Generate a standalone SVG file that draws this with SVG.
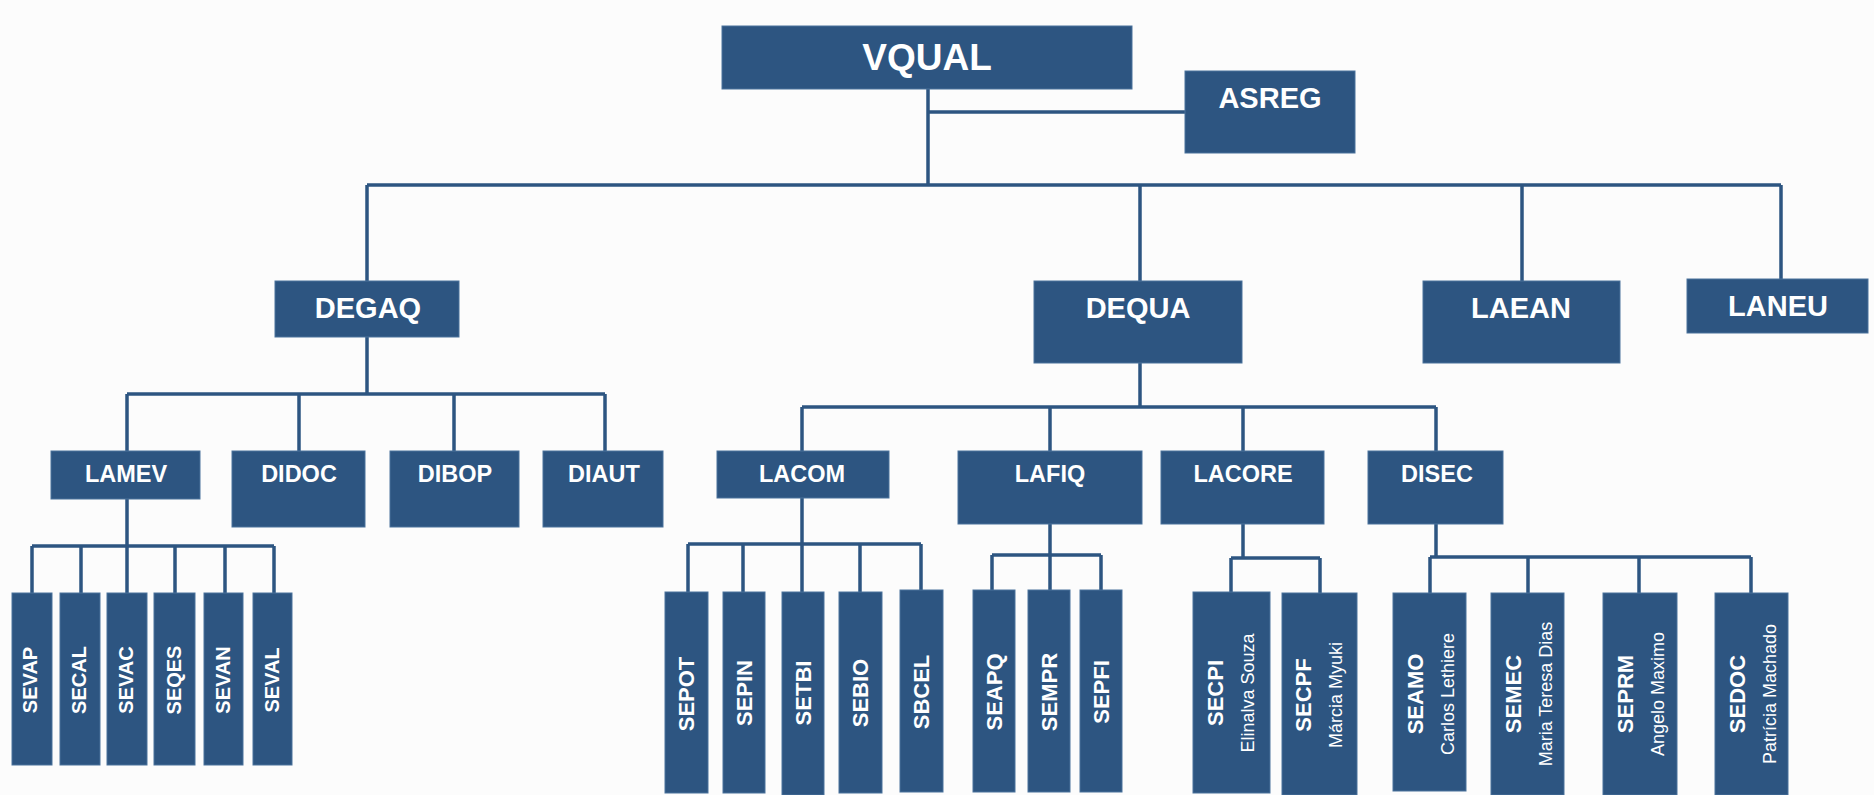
<svg xmlns="http://www.w3.org/2000/svg" width="1874" height="795" viewBox="0 0 1874 795">
<style>
.b{fill:#2D5581;stroke:#4A729B;stroke-width:1}
.t{font-family:"Liberation Sans",Arial,sans-serif;fill:#FFFFFF;text-anchor:middle}
.l2{font-size:29px;font-weight:bold}
.l3{font-size:23.5px;font-weight:bold}
.v{font-size:22px;font-weight:bold}
.vs{font-size:20px;font-weight:bold}
.s{font-size:18px}
.c{fill:none;stroke:#2D5581;stroke-width:3.5}
</style>
<rect x="0" y="0" width="1874" height="795" fill="#FCFCFC"/>
<g id="connectors" class="c">
<path d="M928,89 V185 M928,112 H1185 M367,185 H1781 M367,185 V281 M1140,185 V281 M1522,185 V281 M1781,185 V279"/>
<path d="M367,337 V394 M127,394 H605 M127,394 V451 M299,394 V451 M454,394 V451 M605,394 V451"/>
<path d="M127,499 V546 M32,546 H274 M32,546 V593 M81,546 V593 M127,546 V593 M175,546 V593 M225,546 V593 M274,546 V593"/>
<path d="M1140,363 V407 M802,407 H1436 M802,407 V451 M1050,407 V451 M1243,407 V451 M1436,407 V451"/>
<path d="M802,498 V544 M688,544 H921 M688,544 V592 M743,544 V592 M802,544 V592 M860,544 V592 M921,544 V590"/>
<path d="M1050,524 V555 M992,555 H1101 M992,555 V590 M1050,555 V590 M1101,555 V590"/>
<path d="M1243,524 V558 M1231,558 H1320 M1231,558 V592 M1320,558 V593"/>
<path d="M1436,524 V557 M1430,557 H1751 M1430,557 V593 M1528,557 V593 M1639,557 V593 M1751,557 V593"/>
</g>
<g id="VQUAL"><rect class="b" x="722" y="26" width="410" height="63"/><text class="t" x="927" y="70" font-size="37" font-weight="bold">VQUAL</text></g>
<g id="ASREG"><rect class="b" x="1185" y="71" width="170" height="82"/><text class="t l2" x="1270" y="108">ASREG</text></g>
<g id="DEGAQ"><rect class="b" x="275" y="281" width="184" height="56"/><text class="t l2" x="368" y="318">DEGAQ</text></g>
<g id="DEQUA"><rect class="b" x="1034" y="281" width="208" height="82"/><text class="t l2" x="1138" y="318">DEQUA</text></g>
<g id="LAEAN"><rect class="b" x="1423" y="281" width="197" height="82"/><text class="t l2" x="1521" y="318">LAEAN</text></g>
<g id="LANEU"><rect class="b" x="1687" y="279" width="181" height="54"/><text class="t l2" x="1778" y="316">LANEU</text></g>
<g id="LAMEV"><rect class="b" x="51" y="451" width="149" height="48"/><text class="t l3" x="126" y="482">LAMEV</text></g>
<g id="DIDOC"><rect class="b" x="232" y="451" width="133" height="76"/><text class="t l3" x="299" y="482">DIDOC</text></g>
<g id="DIBOP"><rect class="b" x="390" y="451" width="129" height="76"/><text class="t l3" x="455" y="482">DIBOP</text></g>
<g id="DIAUT"><rect class="b" x="543" y="451" width="120" height="76"/><text class="t l3" x="604" y="482">DIAUT</text></g>
<g id="LACOM"><rect class="b" x="717" y="451" width="172" height="47"/><text class="t l3" x="802" y="482">LACOM</text></g>
<g id="LAFIQ"><rect class="b" x="958" y="451" width="184" height="73"/><text class="t l3" x="1050" y="482">LAFIQ</text></g>
<g id="LACORE"><rect class="b" x="1161" y="451" width="163" height="73"/><text class="t l3" x="1243" y="482">LACORE</text></g>
<g id="DISEC"><rect class="b" x="1368" y="451" width="135" height="73"/><text class="t l3" x="1437" y="482">DISEC</text></g>
<g id="SEVAP"><rect class="b" x="12" y="593" width="40" height="172"/><text class="t vs" transform="translate(37 680) rotate(-90)">SEVAP</text></g>
<g id="SECAL"><rect class="b" x="60" y="593" width="40" height="172"/><text class="t vs" transform="translate(86 680) rotate(-90)">SECAL</text></g>
<g id="SEVAC"><rect class="b" x="107" y="593" width="40" height="172"/><text class="t vs" transform="translate(133 680) rotate(-90)">SEVAC</text></g>
<g id="SEQES"><rect class="b" x="154" y="593" width="41" height="172"/><text class="t vs" transform="translate(181 680) rotate(-90)">SEQES</text></g>
<g id="SEVAN"><rect class="b" x="204" y="593" width="39" height="172"/><text class="t vs" transform="translate(230 680) rotate(-90)">SEVAN</text></g>
<g id="SEVAL"><rect class="b" x="253" y="593" width="39" height="172"/><text class="t vs" transform="translate(279 680) rotate(-90)">SEVAL</text></g>
<g id="SEPOT"><rect class="b" x="665" y="592" width="43" height="201"/><text class="t v" transform="translate(694 694) rotate(-90)">SEPOT</text></g>
<g id="SEPIN"><rect class="b" x="723" y="592" width="42" height="201"/><text class="t v" transform="translate(752 693) rotate(-90)">SEPIN</text></g>
<g id="SETBI"><rect class="b" x="782" y="592" width="42" height="203"/><text class="t v" transform="translate(811 693) rotate(-90)">SETBI</text></g>
<g id="SEBIO"><rect class="b" x="839" y="592" width="43" height="201"/><text class="t v" transform="translate(868 693) rotate(-90)">SEBIO</text></g>
<g id="SBCEL"><rect class="b" x="900" y="590" width="43" height="202"/><text class="t v" transform="translate(929 692) rotate(-90)">SBCEL</text></g>
<g id="SEAPQ"><rect class="b" x="973" y="590" width="42" height="202"/><text class="t v" transform="translate(1002 692) rotate(-90)">SEAPQ</text></g>
<g id="SEMPR"><rect class="b" x="1028" y="590" width="42" height="202"/><text class="t v" transform="translate(1057 692) rotate(-90)">SEMPR</text></g>
<g id="SEPFI"><rect class="b" x="1080" y="590" width="42" height="202"/><text class="t v" transform="translate(1109 692) rotate(-90)">SEPFI</text></g>
<g id="SECPI"><rect class="b" x="1193" y="592" width="77" height="201"/><text class="t v" transform="translate(1223 693) rotate(-90)">SECPI</text><text class="t s" transform="translate(1254 693) rotate(-90)">Elinalva Souza</text></g>
<g id="SECPF"><rect class="b" x="1282" y="593" width="75" height="202"/><text class="t v" transform="translate(1311 695) rotate(-90)">SECPF</text><text class="t s" transform="translate(1342 695) rotate(-90)">Márcia Myuki</text></g>
<g id="SEAMO"><rect class="b" x="1393" y="593" width="73" height="198"/><text class="t v" transform="translate(1423 694) rotate(-90)">SEAMO</text><text class="t s" transform="translate(1454 694) rotate(-90)">Carlos Lethiere</text></g>
<g id="SEMEC"><rect class="b" x="1491" y="593" width="73" height="202"/><text class="t v" transform="translate(1521 694) rotate(-90)">SEMEC</text><text class="t s" transform="translate(1552 694) rotate(-90)">Maria Teresa Dias</text></g>
<g id="SEPRM"><rect class="b" x="1603" y="593" width="74" height="202"/><text class="t v" transform="translate(1633 694) rotate(-90)">SEPRM</text><text class="t s" transform="translate(1664 694) rotate(-90)">Angelo Maximo</text></g>
<g id="SEDOC"><rect class="b" x="1715" y="593" width="73" height="202"/><text class="t v" transform="translate(1745 694) rotate(-90)">SEDOC</text><text class="t s" transform="translate(1776 694) rotate(-90)">Patrícia Machado</text></g>
</svg>
